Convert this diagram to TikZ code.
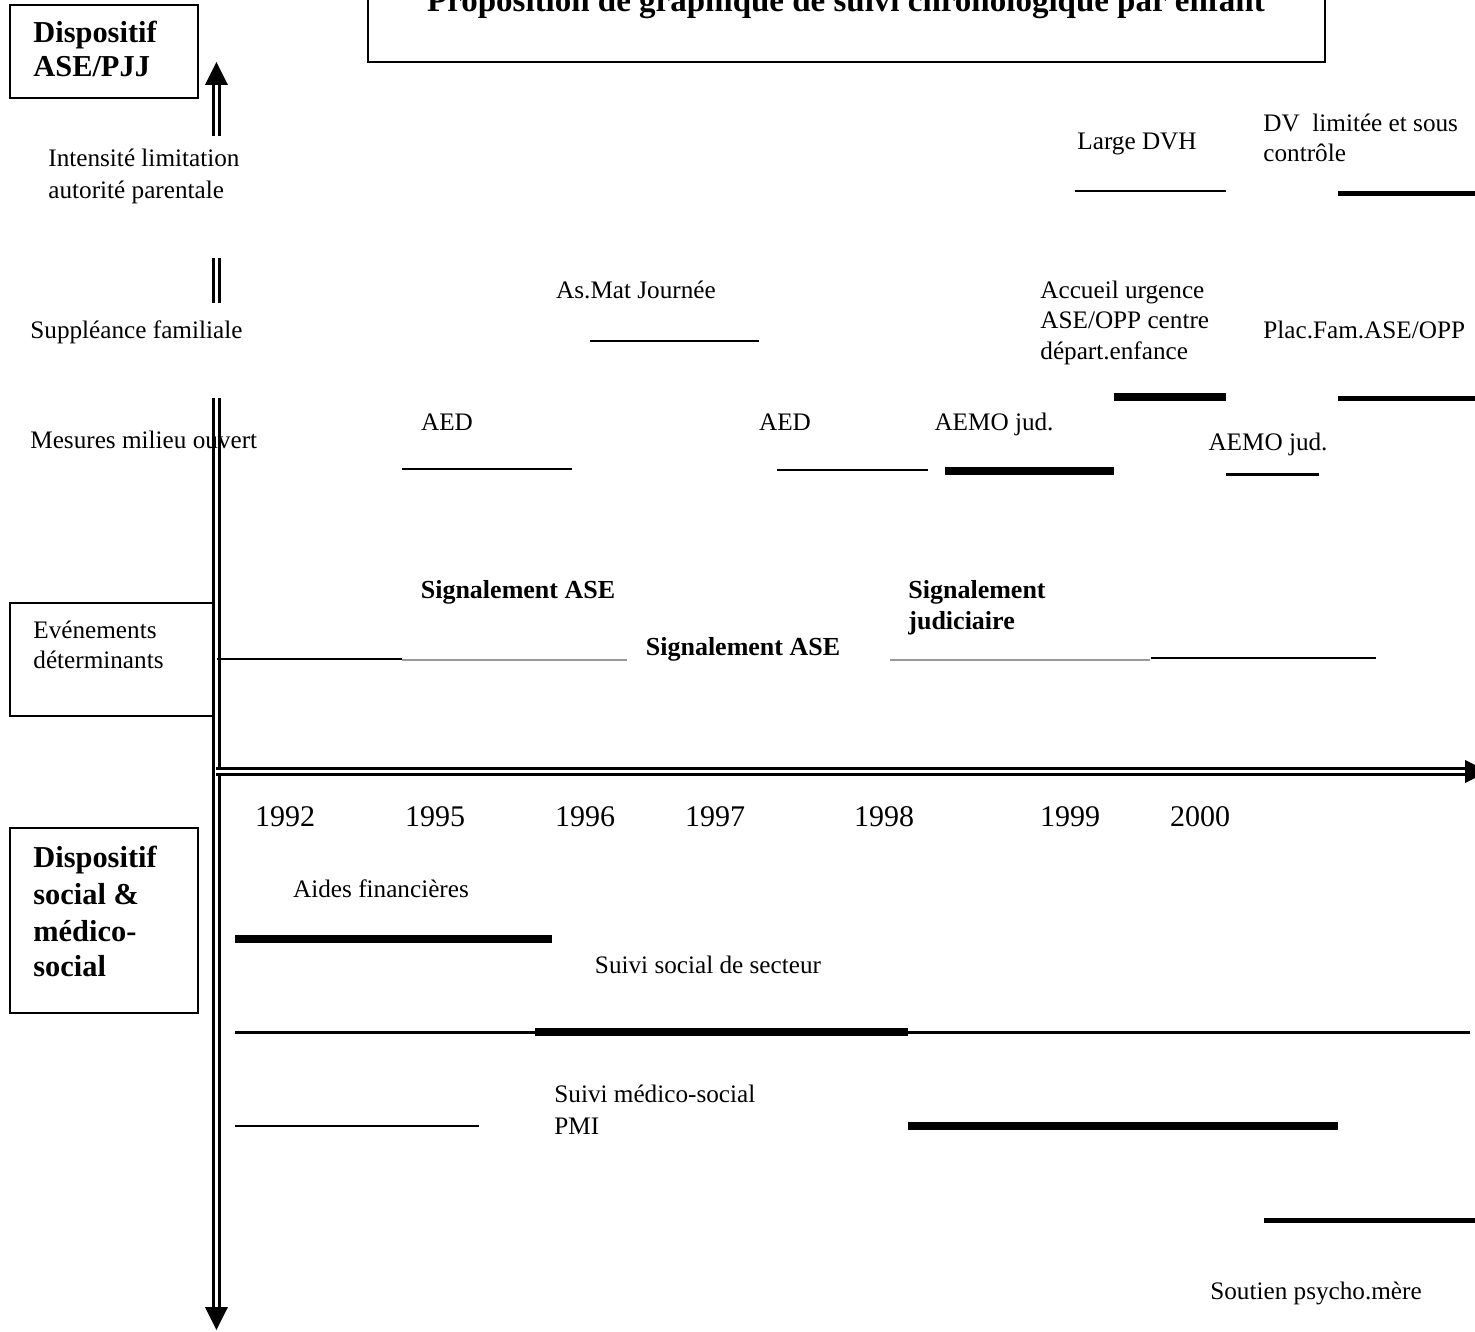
\documentclass[tikz,border=0pt]{standalone}
\usepackage{fontspec}
\setmainfont{Liberation Serif}
\begin{document}
\begin{tikzpicture}[x=0.5pt,y=-0.5pt,
  txt/.style={inner sep=0pt,font=\fontsize{12.6}{15}\selectfont},
  btxt/.style={inner sep=0pt,font=\fontsize{13}{15}\selectfont\bfseries},
  boxlbl/.style={inner sep=0pt,font=\fontsize{15.2}{18}\selectfont\bfseries},
  yr/.style={inner sep=0pt,font=\fontsize{15}{18}\selectfont,anchor=base},
  frame/.style={draw,line width=1pt},
  axis/.style={double,line width=1.25pt,double distance=1.6pt},
  thinbar/.style={line width=0.75pt},
  medbar/.style={line width=1.5pt},
  midbar/.style={line width=2.5pt},
  thickbar/.style={line width=3.6pt},
  greybar/.style={line width=0.6pt,black!40}]
\clip (0,0) rectangle (1475,1331);
% boxes
\draw[frame] (368,-10) rectangle (1325,62);
\node[inner sep=0pt,anchor=base,font=\fontsize{16.5}{19}\selectfont\bfseries] (title) at (846,12) {Proposition de graphique de suivi chronologique par enfant};
\draw[frame] (10,5) rectangle (198,98);
\node[boxlbl,anchor=base west] (d1a) at (33,43) {Dispositif};
\node[boxlbl,anchor=base west] (d1b) at (33,77) {ASE/PJJ};
\draw[frame] (10,603) rectangle (216,716);
\node[txt,anchor=base west] (ev1) at (33,638) {Evénements};
\node[txt,anchor=base west] (ev2) at (33,668) {déterminants};
\draw[frame] (10,828) rectangle (198,1013);
\node[boxlbl,anchor=base west] (d2a) at (33,867) {Dispositif};
\node[boxlbl,anchor=base west] (d2b) at (33,904) {social \&};
\node[boxlbl,anchor=base west] (d2c) at (33,941) {médico-};
\node[boxlbl,anchor=base west] (d2d) at (33,976) {social};
% vertical axis
\draw[axis] (216.4,84) -- (216.4,136);
\draw[axis] (216.4,258) -- (216.4,303);
\draw[axis] (216.4,398) -- (216.4,1308);
\fill (216.4,62) -- (205,85) -- (228,85) -- cycle;
\fill (216.4,1330) -- (205,1307) -- (228,1307) -- cycle;
% horizontal axis
\draw[axis] (216.4,771.5) -- (1466,771.5);
\fill (1465,760) -- (1465,783) -- (1488,771.5) -- cycle;
% left labels
\node[txt,anchor=base west] (l1a) at (48,167) {Intensité limitation};
\node[txt,anchor=base west] (l1b) at (48,199) {autorité parentale};
\node[txt,anchor=base west] (l2) at (30,339) {Suppléance familiale};
\node[txt,anchor=base west] (l3) at (30,448) {Mesures milieu ouvert};
% years
\node[yr] (y92) at (285,826) {1992};
\node[yr] (y95) at (435,826) {1995};
\node[yr] (y96) at (585,826) {1996};
\node[yr] (y97) at (715,826) {1997};
\node[yr] (y98) at (884,826) {1998};
\node[yr] (y99) at (1070,826) {1999};
\node[yr] (y00) at (1200,826) {2000};
% top row
\node[txt,anchor=base] (dvh) at (1137,150) {Large DVH};
\draw[thinbar] (1075,191) -- (1226,191);
\node[txt,anchor=base west] (dva) at (1263,132) {DV\ \ limitée et sous};
\node[txt,anchor=base west] (dvb) at (1263,162) {contrôle};
\draw[midbar] (1338,194) -- (1475,194);
% suppleance
\node[txt,anchor=base] (asmat) at (636,299) {As.Mat Journée};
\draw[thinbar] (590,341) -- (759,341);
\node[txt,anchor=base west] (acc1) at (1040,299) {Accueil urgence};
\node[txt,anchor=base west] (acc2) at (1040,329) {ASE/OPP centre};
\node[txt,anchor=base west] (acc3) at (1040,360) {départ.enfance};
\draw[thickbar] (1114,397) -- (1226,397);
\node[txt,anchor=base west] (plac) at (1263,339) {Plac.Fam.ASE/OPP};
\draw[midbar] (1338,399) -- (1475,399);
% milieu ouvert
\node[txt,anchor=base] (aed1) at (447,430) {AED};
\draw[thinbar] (402,469) -- (572,469);
\node[txt,anchor=base] (aed2) at (785,430) {AED};
\draw[thinbar] (777,470) -- (928,470);
\node[txt,anchor=base] (aemo1) at (994,430) {AEMO jud.};
\draw[thickbar] (945,471) -- (1114,471);
\node[txt,anchor=base] (aemo2) at (1268,450) {AEMO jud.};
\draw[medbar] (1226,474) -- (1319,474);
% events
\node[btxt,anchor=base] (sig1) at (518,598) {Signalement ASE};
\node[btxt,anchor=base] (sig2) at (743,655) {Signalement ASE};
\node[btxt,anchor=base west] (sig3a) at (908,598) {Signalement};
\node[btxt,anchor=base west] (sig3b) at (908,629) {judiciaire};
\draw[thinbar] (217,659) -- (402,659);
\draw[greybar] (402,660) -- (627,660);
\draw[greybar] (890,660) -- (1150,660);
\draw[thinbar] (1151,658) -- (1376,658);
% social
\node[txt,anchor=base] (aides) at (381,897) {Aides financières};
\draw[thickbar] (235,939) -- (552,939);
\node[txt,anchor=base] (suivi) at (708,973) {Suivi social de secteur};
\draw[medbar] (235,1032) -- (535,1032);
\draw[thickbar] (535,1032) -- (908,1032);
\draw[medbar] (908,1032) -- (1470,1032);
\node[txt,anchor=base west] (pmi1) at (554,1102) {Suivi médico-social};
\node[txt,anchor=base west] (pmi2) at (554,1134) {PMI};
\draw[thinbar] (235,1126) -- (479,1126);
\draw[thickbar] (908,1126) -- (1338,1126);
\draw[midbar] (1264,1220) -- (1475,1220);
\node[txt,anchor=base] (psy) at (1316,1299) {Soutien psycho.mère};
\end{tikzpicture}
\end{document}
